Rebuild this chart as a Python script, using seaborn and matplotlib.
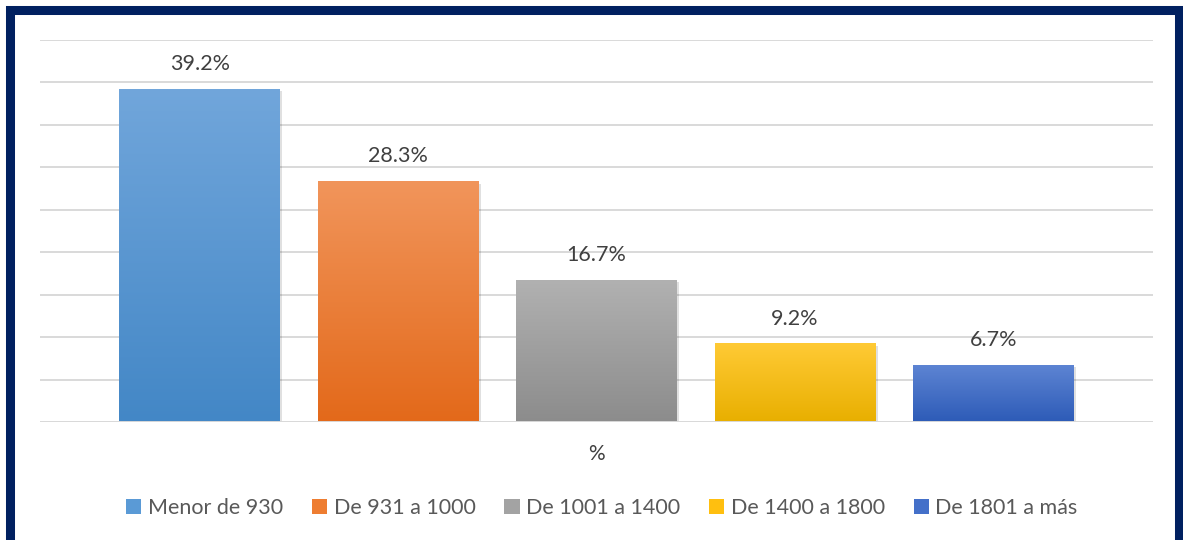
import numpy as np
import pandas as pd
import matplotlib
matplotlib.use("Agg")
import matplotlib.pyplot as plt
import seaborn as sns
from matplotlib.patches import Rectangle
from matplotlib.colors import LinearSegmentedColormap

categories = ["Menor de 930", "De 931 a 1000", "De 1001 a 1400", "De 1400 a 1800", "De 1801 a más"]
values = [39.2, 28.3, 16.7, 9.2, 6.7]
value_labels = ["39.2%", "28.3%", "16.7%", "9.2%", "6.7%"]
group_label = "%"
top_colors = ["#71A6DB", "#F1955B", "#B1B1B1", "#FFCA35", "#5D84D3"]
bottom_colors = ["#4387C6", "#E3691A", "#8C8C8C", "#E8AF00", "#2D5BB7"]
legend_colors = ["#5A9AD6", "#EE7D31", "#A3A3A3", "#FFBF0F", "#4470C9"]

sns.set_theme(style="white")
plt.rcParams["font.family"] = ["Lato", "DejaVu Sans"]

fig = plt.figure(figsize=(11.83, 5.4), dpi=100)
W, H = 1183, 540
ax = fig.add_axes([40 / W, 1 - 422 / H, (1153 - 40) / W, (422 - 40) / H])

df = pd.DataFrame({"cat": categories, "val": values})
sns.barplot(data=df, x="cat", y="val", hue="cat", palette=bottom_colors,
            width=0.81, dodge=False, legend=False, ax=ax, saturation=1)

ax.set_ylim(0, 45)
ax.set_xlim(-0.805, 4.805)
ax.set_yticks(np.arange(0, 50, 5))
ax.set_yticklabels([])
ax.tick_params(axis="y", length=0)
ax.yaxis.grid(True, color="#D9D9D9", linewidth=1.4)
ax.set_axisbelow(True)
for s in ["top", "right", "left", "bottom"]:
    ax.spines[s].set_visible(False)
ax.set_ylabel("")
ax.set_xlabel("")
ax.set_xticks([2])
ax.set_xticklabels([group_label], fontsize=15, color="#404040")
ax.tick_params(axis="x", length=0, pad=16)

# gradient fill + shadow for each bar
for i, p in enumerate(ax.patches):
    x0, w, h = p.get_x(), p.get_width(), p.get_height()
    cmap = LinearSegmentedColormap.from_list("g", [bottom_colors[i], top_colors[i]])
    grad = np.linspace(0, 1, 256).reshape(-1, 1)
    ax.imshow(grad, extent=[x0, x0 + w, 0, h], origin="lower", aspect="auto",
              cmap=cmap, zorder=3)
    sh = Rectangle((x0 + 0.012, -0.25), w, h, facecolor="#000000", alpha=0.12,
                   edgecolor="none", zorder=2)
    ax.add_patch(sh)
    p.set_facecolor("none")
    p.set_edgecolor("none")
ax.set_xlim(-0.805, 4.805)
ax.set_ylim(0, 45)
ax.axhline(0, color="#D9D9D9", linewidth=1.4, zorder=4)

for c, lab in zip(ax.containers, value_labels):
    ax.bar_label(c, labels=[lab], padding=11, fontsize=15.5, color="#404040")

handles = [Rectangle((0, 0), 1, 1, facecolor=col, edgecolor="none") for col in legend_colors]
fig.legend(handles, categories, loc="center", bbox_to_anchor=(602 / W, 1 - 508 / H),
           ncol=5, frameon=False, fontsize=15.5, handlelength=0.7, handleheight=0.7,
           columnspacing=1.35, handletextpad=0.3, labelcolor="#595959")

# navy frame
fig.patches.append(Rectangle((10 / W, -0.05), (1179 - 10) / W, 1.05 - 10 / H,
                             transform=fig.transFigure, fill=False,
                             edgecolor="#002060", linewidth=6.5, figure=fig))

fig.savefig("out.png", dpi=100)
